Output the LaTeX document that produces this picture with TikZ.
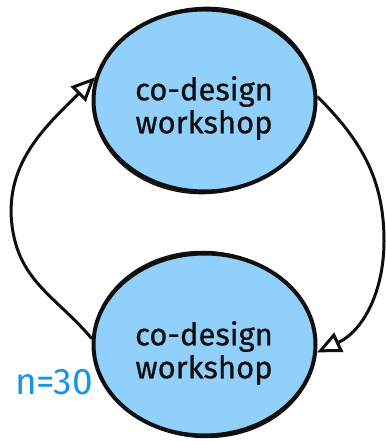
\documentclass[tikz,border=0pt]{standalone}
\usepackage{fontspec}
\setmainfont{Fira Sans}
\newfontfamily\bubfont{Fira Sans}[FakeBold=0.7]
\usetikzlibrary{arrows.meta,shapes.geometric}
\definecolor{bubblefill}{RGB}{144,208,250}
\definecolor{inkc}{RGB}{15,15,15}
\definecolor{nblue}{RGB}{24,148,226}
\begin{document}
\begin{tikzpicture}[x=1pt,y=1pt,
  bubble/.style={ellipse, draw=inkc, fill=bubblefill, line width=4pt,
    minimum width=222pt, minimum height=182pt, inner sep=0pt},
  btext/.style={align=center, font=\bubfont\fontsize{31}{33}\selectfont, text=inkc},
  sketch/.style={draw=inkc, line width=1.4pt},
  flow/.style={draw=inkc, line width=3pt,
    -{Triangle[open, length=24pt, width=21pt, line width=3pt]}},
  ]
\useasboundingbox (0,0) rectangle (385,441);
\node[bubble] (top) at (204.5,340.5) {};
\node[bubble] (bot) at (204.5,96.5) {};
\draw[sketch, rotate around={4:(top.center)}] (top.center) ellipse [x radius=111pt, y radius=93pt];
\draw[sketch, rotate around={-3:(bot.center)}] (bot.center) ellipse [x radius=111pt, y radius=93pt];
\node[btext] (toplabel) at (204,333) {co-design\\workshop};
\node[btext] (botlabel) at (204,88) {co-design\\workshop};
\node[font=\fontsize{37}{40}\selectfont, text=nblue] (n) at (54,58.5) {n=30};
\coordinate (lw) at (13,209);
\coordinate (rw) at (384,200);
\draw[flow] (bot.177) to[out=130,in=-80] (lw) to[out=100,in=225] (top.168);
\draw[flow] (top.2) to[out=-45,in=90] (rw) to[out=-90,in=25] (bot.-4);
\end{tikzpicture}
\end{document}
